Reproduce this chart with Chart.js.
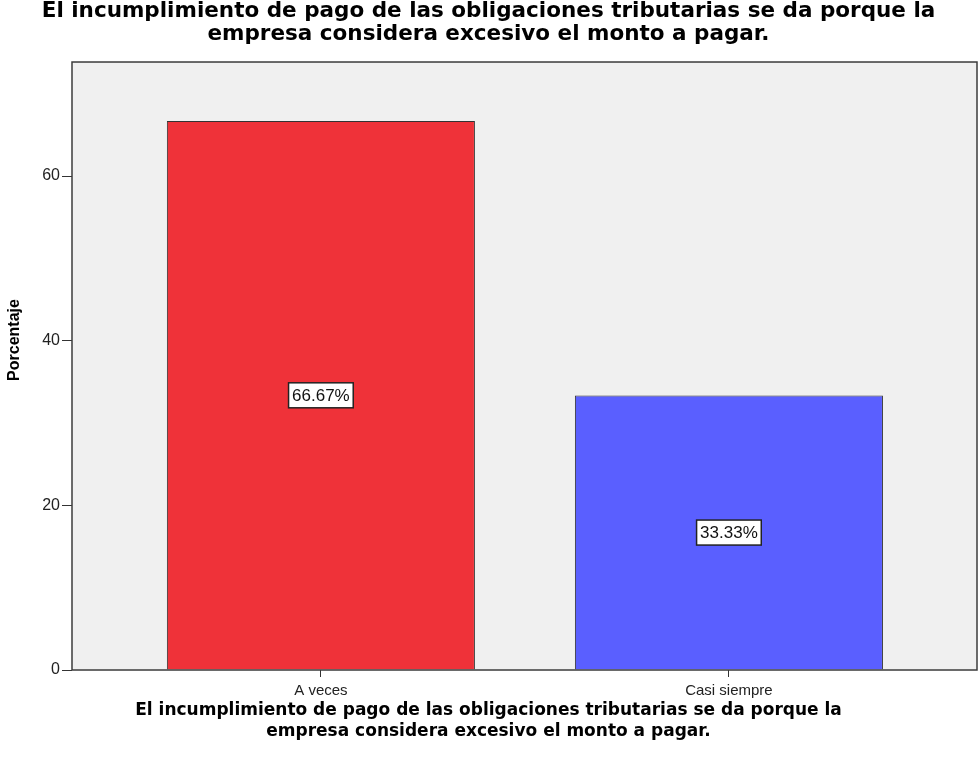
<!DOCTYPE html>
<html>
<head>
<meta charset="utf-8">
<script src="https://cdn.jsdelivr.net/npm/chart.js@4.4.1/dist/chart.umd.min.js"></script>
<style>
  html, body { margin: 0; padding: 0; background: #fff; }
  #wrap { width: 979px; height: 767px; }
</style>
</head>
<body>
<div id="wrap"><canvas id="chart" width="979" height="767"></canvas></div>
<script>
const TITLE = [
  "El incumplimiento de pago de las obligaciones tributarias se da porque la",
  "empresa considera excesivo el monto a pagar."
];
const Y_TITLE = "Porcentaje";
const categories = ["A veces", "Casi siempre"];
const percentages = [66.67, 33.33];
const barColors = ["#ef3239", "#5a5fff"];
const yTicks = [0, 20, 40, 60];

const AXIS_DARK = "#333333";
const SANS = "'Liberation Sans', Arial, sans-serif";
const DEJAVU = "'DejaVu Sans', sans-serif";

// plot background + frame, like the SPSS chart
const framePlugin = {
  id: "frame",
  beforeDraw(chart) {
    const { ctx, chartArea: a } = chart;
    ctx.save();
    ctx.fillStyle = "#f0f0f0";
    ctx.fillRect(a.left, a.top, a.right - a.left, a.bottom - a.top);
    ctx.restore();
  },
  afterDatasetsDraw(chart) {
    const { ctx, chartArea: a } = chart;
    ctx.save();
    ctx.strokeStyle = "#3c3c3c";
    ctx.lineWidth = 1.5;
    ctx.strokeRect(a.left, a.top, a.right - a.left, a.bottom - a.top);
    // y axis title sits a bit above the middle in the original
    ctx.translate(15, (a.top + a.bottom) / 2 - 26);
    ctx.rotate(-Math.PI / 2);
    ctx.font = "bold 16px " + SANS;
    ctx.fillStyle = "#000";
    ctx.textAlign = "center";
    ctx.textBaseline = "middle";
    ctx.fillText(Y_TITLE, 0, 0);
    ctx.restore();
  }
};

// boxed percentage labels in the middle of each bar
const boxLabels = {
  id: "boxLabels",
  afterDatasetsDraw(chart) {
    const { ctx } = chart;
    const meta = chart.getDatasetMeta(0);
    ctx.save();
    ctx.font = "17px " + SANS;
    ctx.textAlign = "center";
    ctx.textBaseline = "middle";
    meta.data.forEach((bar, i) => {
      const txt = percentages[i].toFixed(2) + "%";
      const cy = (bar.y + bar.base) / 2;
      const w = ctx.measureText(txt).width + 7;
      const h = 25;
      ctx.fillStyle = "#ffffff";
      ctx.fillRect(bar.x - w / 2, cy - h / 2, w, h);
      ctx.strokeStyle = "#222";
      ctx.lineWidth = 1.5;
      ctx.strokeRect(bar.x - w / 2, cy - h / 2, w, h);
      ctx.fillStyle = "#111";
      ctx.fillText(txt, bar.x, cy + 1);
    });
    ctx.restore();
  }
};

new Chart(document.getElementById("chart"), {
  type: "bar",
  data: {
    datasets: [{
      data: percentages.map((v, i) => ({ x: i, y: v })),
      backgroundColor: barColors,
      borderColor: AXIS_DARK,
      borderWidth: 1,
      categoryPercentage: 1,
      barPercentage: 0.755
    }]
  },
  options: {
    responsive: false,
    animation: false,
    devicePixelRatio: 1,
    layout: { padding: { left: 0, right: 2, top: 0, bottom: 0 } },
    plugins: {
      legend: { display: false },
      tooltip: { enabled: false },
      title: {
        display: true,
        text: TITLE,
        color: "#000",
        font: { family: DEJAVU, size: 21.5, weight: "bold", lineHeight: 1.07 },
        padding: { top: 0, bottom: 16 }
      },
      subtitle: {
        display: true,
        position: "bottom",
        text: TITLE,
        color: "#000",
        font: { family: DEJAVU, size: 17, weight: "bold", lineHeight: 1.235 },
        padding: { top: 0, bottom: 25 }
      }
    },
    scales: {
      x: {
        type: "linear",
        offset: false,
        min: -0.61,
        max: 1.608,
        afterBuildTicks: (s) => { s.ticks = categories.map((c, i) => ({ value: i })); },
        afterFit: (s) => { s.height = 30; },
        ticks: {
          callback: (v) => categories[v],
          color: "#222",
          font: { family: SANS, size: 15 },
          padding: 5,
          maxRotation: 0
        },
        grid: { offset: false, drawOnChartArea: false, tickLength: 7, color: AXIS_DARK },
        border: { display: false },
        title: { display: false }
      },
      y: {
        min: 0,
        max: 73.85,
        afterBuildTicks: (s) => { s.ticks = yTicks.map(v => ({ value: v })); },
        afterFit: (s) => { s.width = 72; },
        ticks: {
          color: "#222",
          font: { family: SANS, size: 16 },
          padding: 2
        },
        grid: { drawOnChartArea: false, tickLength: 10, color: AXIS_DARK },
        border: { display: false },
        title: { display: false }
      }
    }
  },
  plugins: [framePlugin, boxLabels]
});
</script>
</body>
</html>
